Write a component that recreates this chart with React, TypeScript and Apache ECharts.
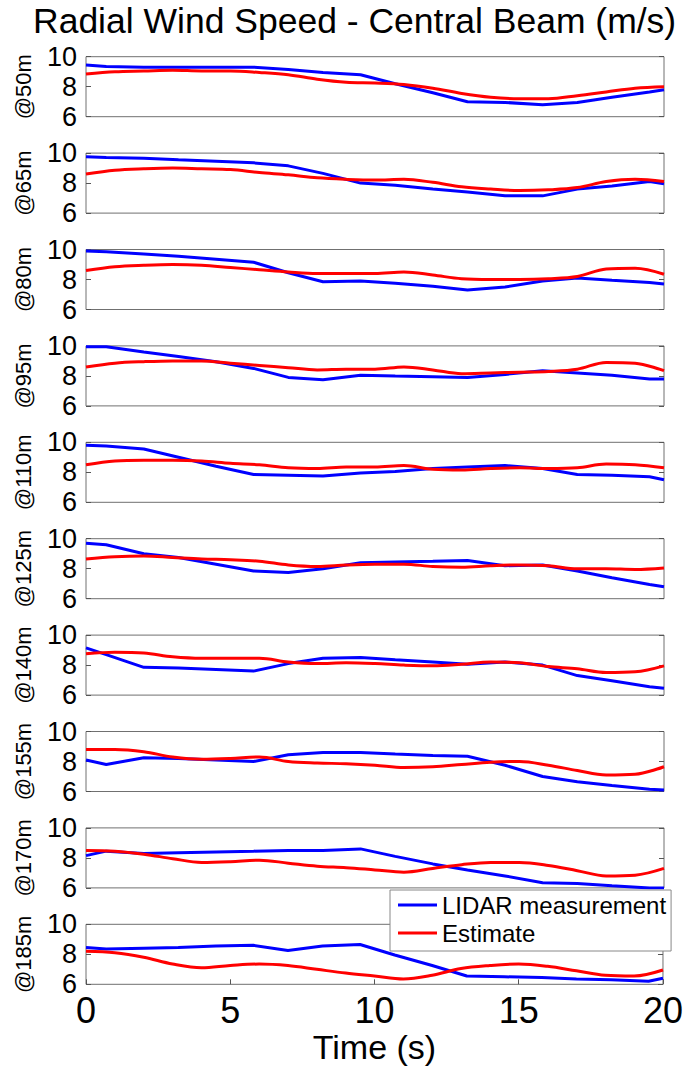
import React, { useEffect, useRef } from "react";
import * as echarts from "echarts";

const FONT = "'Liberation Sans', Arial, Helvetica, sans-serif";

const titleText = "Radial Wind Speed - Central Beam (m/s)";
const xAxisName = "Time (s)";
const seriesNames = ["LIDAR measurement", "Estimate"];
const heightLabels = ["@50m", "@65m", "@80m", "@95m", "@110m", "@125m", "@140m", "@155m", "@170m", "@185m"];

const lidarTimes = [0, 0.7, 2, 3.2, 4.5, 5.8, 7, 8.2, 9.5, 10.7, 12, 13.2, 14.5, 15.8, 17, 18.2, 19.5, 20];
const estimateTimes = [0, 1, 2, 3, 4, 5, 6, 7, 8, 9, 10, 11, 12, 13, 14, 15, 16, 17, 18, 19, 20];

const lidar50 = [9.45, 9.35, 9.3, 9.3, 9.3, 9.3, 9.15, 8.95, 8.8, 8.2, 7.6, 7.0, 6.95, 6.8, 6.95, 7.3, 7.65, 7.8];
const est50 = [8.85, 9.0, 9.05, 9.1, 9.05, 9.05, 8.95, 8.8, 8.5, 8.3, 8.25, 8.15, 7.9, 7.55, 7.3, 7.2, 7.2, 7.4, 7.65, 7.9, 8.0];
const lidar65 = [9.75, 9.7, 9.65, 9.55, 9.45, 9.35, 9.15, 8.65, 8.0, 7.85, 7.6, 7.4, 7.15, 7.15, 7.6, 7.8, 8.1, 7.95];
const est65 = [8.6, 8.85, 8.95, 9.0, 8.95, 8.9, 8.7, 8.55, 8.35, 8.25, 8.2, 8.25, 8.05, 7.75, 7.6, 7.5, 7.55, 7.7, 8.1, 8.25, 8.1];
const lidar80 = [9.9, 9.85, 9.7, 9.55, 9.35, 9.15, 8.45, 7.85, 7.9, 7.75, 7.55, 7.3, 7.5, 7.9, 8.1, 7.95, 7.8, 7.7];
const est80 = [8.6, 8.85, 8.95, 9.0, 8.95, 8.8, 8.65, 8.5, 8.4, 8.4, 8.4, 8.5, 8.3, 8.05, 8.0, 8.0, 8.05, 8.2, 8.7, 8.75, 8.35];
const lidar95 = [9.95, 9.95, 9.6, 9.3, 8.95, 8.5, 7.9, 7.75, 8.05, 8.0, 7.95, 7.9, 8.1, 8.35, 8.2, 8.05, 7.8, 7.8];
const est95 = [8.6, 8.85, 8.95, 9.0, 9.0, 8.85, 8.7, 8.55, 8.4, 8.45, 8.45, 8.6, 8.4, 8.15, 8.2, 8.25, 8.3, 8.45, 8.9, 8.85, 8.35];
const lidar110 = [9.8, 9.75, 9.55, 9.0, 8.4, 7.85, 7.8, 7.75, 7.95, 8.05, 8.25, 8.35, 8.45, 8.25, 7.85, 7.8, 7.7, 7.5];
const est110 = [8.5, 8.75, 8.8, 8.8, 8.75, 8.6, 8.5, 8.3, 8.25, 8.35, 8.35, 8.45, 8.2, 8.15, 8.25, 8.3, 8.25, 8.3, 8.55, 8.5, 8.3];
const lidar125 = [9.7, 9.6, 9.0, 8.75, 8.3, 7.85, 7.75, 8.0, 8.4, 8.45, 8.5, 8.55, 8.2, 8.25, 7.85, 7.4, 6.95, 6.8];
const est125 = [8.65, 8.8, 8.85, 8.75, 8.65, 8.6, 8.5, 8.25, 8.15, 8.25, 8.3, 8.3, 8.15, 8.1, 8.2, 8.25, 8.2, 8.0, 8.0, 7.95, 8.05];
const lidar140 = [9.15, 8.7, 7.85, 7.8, 7.7, 7.6, 8.1, 8.45, 8.5, 8.35, 8.2, 8.05, 8.2, 8.0, 7.3, 6.95, 6.55, 6.45];
const est140 = [8.75, 8.85, 8.8, 8.55, 8.45, 8.45, 8.45, 8.2, 8.1, 8.15, 8.1, 8.0, 7.95, 8.05, 8.2, 8.15, 7.9, 7.75, 7.5, 7.55, 7.95];
const lidar155 = [8.1, 7.8, 8.25, 8.2, 8.1, 8.0, 8.45, 8.6, 8.6, 8.5, 8.4, 8.35, 7.75, 7.0, 6.65, 6.4, 6.15, 6.1];
const est155 = [8.8, 8.8, 8.65, 8.3, 8.15, 8.2, 8.3, 8.0, 7.9, 7.85, 7.75, 7.6, 7.65, 7.8, 7.95, 8.0, 7.75, 7.4, 7.1, 7.15, 7.65];
const lidar170 = [8.15, 8.45, 8.3, 8.35, 8.4, 8.45, 8.5, 8.5, 8.6, 8.1, 7.6, 7.2, 6.8, 6.35, 6.3, 6.15, 6.0, 6.0];
const est170 = [8.5, 8.45, 8.25, 7.95, 7.7, 7.75, 7.85, 7.65, 7.45, 7.35, 7.2, 7.05, 7.3, 7.55, 7.7, 7.7, 7.5, 7.15, 6.8, 6.85, 7.3];
const lidar185 = [8.45, 8.35, 8.4, 8.45, 8.55, 8.6, 8.25, 8.55, 8.65, 7.95, 7.25, 6.55, 6.5, 6.45, 6.35, 6.3, 6.2, 6.4];
const est185 = [8.2, 8.1, 7.8, 7.35, 7.1, 7.25, 7.35, 7.25, 7.0, 6.75, 6.55, 6.35, 6.6, 7.05, 7.25, 7.35, 7.2, 6.9, 6.6, 6.55, 6.95];

const lidarList = [lidar50, lidar65, lidar80, lidar95, lidar110, lidar125, lidar140, lidar155, lidar170, lidar185];
const estimateList = [est50, est65, est80, est95, est110, est125, est140, est155, est170, est185];

const xTicks = { min: 0, max: 20, interval: 5 };
const yTicks = { min: 6, max: 10, interval: 2 };
const yMiddleTick = 8;

export default function App() {
  const ref = useRef<HTMLDivElement>(null);

  useEffect(() => {
    if (!ref.current) return;
    const chart = echarts.init(ref.current, undefined, { renderer: "svg" });
    const n = heightLabels.length;
    const gridTop0 = 56.7;
    const gridStep = 96.4;
    const gridH = 60;
    const grids: any[] = [];
    const xAxes: any[] = [];
    const yAxes: any[] = [];
    const series: any[] = [];
    const yLabelStyle = {
      rich: { t: { fontSize: 27, lineHeight: 22, fontFamily: FONT, color: "#000" } },
      margin: 9,
      hideOverlap: false,
      showMinLabel: true,
      showMaxLabel: true,
    };

    for (let i = 0; i < n; i++) {
      const last = i === n - 1;
      grids.push({
        left: 86,
        width: 578,
        top: gridTop0 + gridStep * i,
        height: gridH,
        show: true,
        borderColor: "#707070",
        borderWidth: 1,
        backgroundColor: "#fff",
      });
      xAxes.push({
        type: "value",
        gridIndex: i,
        min: xTicks.min,
        max: xTicks.max,
        interval: xTicks.interval,
        axisLine: { show: false },
        splitLine: { show: false },
        axisTick: { show: last, inside: true, length: 5, lineStyle: { color: "#555" } },
        axisLabel: {
          show: last,
          fontSize: 36,
          fontFamily: FONT,
          color: "#000",
          margin: 8,
          hideOverlap: false,
          showMinLabel: true,
          showMaxLabel: true,
        },
        name: last ? xAxisName : "",
        nameLocation: "middle",
        nameGap: 46,
        nameTextStyle: { fontSize: 34, fontFamily: FONT, color: "#000" },
      });
      // left axis: end labels (6, 10), ticks, and the height name
      yAxes.push({
        type: "value",
        gridIndex: i,
        min: yTicks.min,
        max: yTicks.max,
        interval: yTicks.interval,
        axisLine: { show: false },
        splitLine: { show: false },
        axisTick: { show: true, inside: true, length: 5, lineStyle: { color: "#555" } },
        axisLabel: {
          ...yLabelStyle,
          formatter: (v: number) => (v === yMiddleTick ? "" : `{t|${v}}`),
        },
        name: heightLabels[i],
        nameLocation: "middle",
        nameRotate: 90,
        nameGap: 52,
        nameTextStyle: { fontSize: 22, fontFamily: FONT, color: "#000" },
      });
      // left axis (same scale): middle label (8)
      yAxes.push({
        type: "value",
        gridIndex: i,
        position: "left",
        min: yTicks.min,
        max: yTicks.max,
        interval: yTicks.interval,
        axisLine: { show: false },
        splitLine: { show: false },
        axisTick: { show: false },
        axisLabel: {
          ...yLabelStyle,
          formatter: (v: number) => (v === yMiddleTick ? `{t|${v}}` : ""),
        },
      });
      // right axis: inward ticks only
      yAxes.push({
        type: "value",
        gridIndex: i,
        position: "right",
        min: yTicks.min,
        max: yTicks.max,
        interval: yTicks.interval,
        axisLine: { show: false },
        splitLine: { show: false },
        axisTick: { show: true, inside: true, length: 5, lineStyle: { color: "#555" } },
        axisLabel: { show: false },
      });
      series.push({
        name: seriesNames[0],
        type: "line",
        xAxisIndex: i,
        yAxisIndex: 3 * i,
        data: lidarTimes.map((t, k) => [t, lidarList[i][k]]),
        symbol: "none",
        color: "#0000ff",
        lineStyle: { color: "#0000ff", width: 3 },
        z: 2,
      });
      series.push({
        name: seriesNames[1],
        type: "line",
        xAxisIndex: i,
        yAxisIndex: 3 * i,
        data: estimateTimes.map((t, k) => [t, estimateList[i][k]]),
        symbol: "none",
        smooth: 0.35,
        color: "#ff0000",
        lineStyle: { color: "#ff0000", width: 3 },
        z: 3,
      });
    }

    chart.setOption({
      animation: false,
      backgroundColor: "#fff",
      title: {
        text: titleText,
        left: 28,
        top: -2,
        textStyle: { fontSize: 35.5, fontWeight: "normal", fontFamily: FONT, color: "#000" },
      },
      legend: {
        data: seriesNames,
        orient: "vertical",
        left: 390,
        top: 890,
        icon: "rect",
        itemWidth: 39,
        itemHeight: 3,
        itemGap: 4,
        selectedMode: false,
        backgroundColor: "#fff",
        borderColor: "#888",
        borderWidth: 1,
        borderRadius: 0,
        padding: [3, 5, 6, 8],
        textStyle: { fontSize: 24, fontFamily: FONT, color: "#000" },
        z: 10,
      },
      grid: grids,
      xAxis: xAxes,
      yAxis: yAxes,
      series,
    });

    return () => chart.dispose();
  }, []);

  return (
    <div
      ref={ref}
      style={{ position: "absolute", left: 0, top: 0, width: 686, height: 1070, background: "#fff" }}
    />
  );
}
